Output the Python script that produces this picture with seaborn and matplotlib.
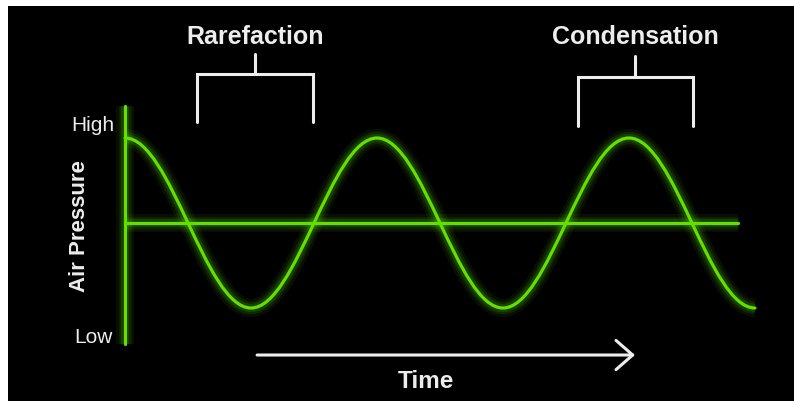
import matplotlib
matplotlib.use('Agg')
import matplotlib.pyplot as plt
import numpy as np
import seaborn as sns
from matplotlib.path import Path
from matplotlib.patches import PathPatch

# wave extremes (time in half-periods, pressure -1..1)
extreme_times = [0, 1, 2, 3, 4, 5]
extreme_levels = [1, -1, 1, -1, 1, -1]

# ambient pressure line and pressure axis extent
midline_times = [0, 4.865]
midline_levels = [0, 0]
axis_times = [0, 0]
axis_levels = [1.376, -1.424]

# brackets: (label, start, end, leg bottom, bar level, stem top)
bracket_labels = ['Rarefaction', 'Condensation']
bracket_starts = [0.571, 3.595]
bracket_ends = [1.492, 4.508]
bracket_bottoms = [1.188, 1.141]
bracket_bars = [1.753, 1.718]
bracket_tops = [1.988, 1.965]

time_arrow = [1.048, 4.048]

green = '#62e000'
white = '#ededed'

sns.set_theme(style='dark')
plt.rcParams['font.family'] = ['Liberation Sans', 'DejaVu Sans']

fig = plt.figure(figsize=(7.94, 4.02), dpi=100, facecolor='white')
ax = fig.add_axes([8 / 794, 0, 786 / 794, 395 / 402])
ax.set_facecolor('black')
ax.set_xlim(-0.929, 5.310)
ax.set_ylim(-2.094, 2.553)
ax.set_xticks([])
ax.set_yticks([])
ax.grid(False)
for sp in ax.spines.values():
    sp.set_visible(False)

glow = [(13, 0.07), (9, 0.1), (6, 0.15)]


def glow_line(x, y):
    for lw, a in glow:
        ax.plot(x, y, color=green, lw=lw, alpha=a, solid_capstyle='butt')
    sns.lineplot(x=x, y=y, color=green, lw=2.3, ax=ax, sort=False,
                 estimator=None)


# axis and midline
glow_line(axis_times, axis_levels)
glow_line(midline_times, midline_levels)
ax.set_xlabel('')
ax.set_ylabel('')

# wave as cubic segments between extremes
k = 0.3634
verts = [(extreme_times[0], extreme_levels[0])]
codes = [Path.MOVETO]
for i in range(1, len(extreme_times)):
    t0, t1 = extreme_times[i - 1], extreme_times[i]
    p0, p1 = extreme_levels[i - 1], extreme_levels[i]
    span = t1 - t0
    verts += [(t0 + k * span, p0), (t1 - k * span, p1), (t1, p1)]
    codes += [Path.CURVE4] * 3
wave = Path(verts, codes)
for lw, a in glow:
    ax.add_patch(PathPatch(wave, fill=False, edgecolor=green, lw=lw, alpha=a))
ax.add_patch(PathPatch(wave, fill=False, edgecolor=green, lw=2.3, capstyle='round'))

# brackets and labels
for lab, s, e, b, bar, top in zip(bracket_labels, bracket_starts, bracket_ends,
                                  bracket_bottoms, bracket_bars, bracket_tops):
    mid = (s + e) / 2
    ax.plot([s, s, e, e], [b, bar, bar, b], color=white, lw=2.2,
            solid_joinstyle='miter')
    ax.plot([mid, mid], [bar, top], color=white, lw=2.2)
    ax.text(mid, 2.12, lab, color=white, fontsize=18, fontweight='bold',
            ha='center', va='baseline')

# axis labels
ax.text(-0.087, 1.094, 'High', color=white, fontsize=15, ha='right', va='baseline')
ax.text(-0.095, -1.40, 'Low', color=white, fontsize=15, ha='right', va='baseline')
ax.text(-0.317, -0.024, 'Air Pressure', color=white, fontsize=16, fontweight='bold',
        rotation=90, rotation_mode='anchor', ha='center', va='baseline')

# time arrow
ax.annotate('', xy=(time_arrow[1], -1.553), xytext=(time_arrow[0], -1.553),
            arrowprops=dict(arrowstyle='->,head_length=1.2,head_width=1.05',
                            color=white, lw=2.2, mutation_scale=10,
                            shrinkA=0, shrinkB=0))
ax.text(2.389, -1.929, 'Time', color=white, fontsize=17.5, fontweight='bold',
        ha='center', va='baseline')

fig.savefig('out.png', dpi=100, facecolor='white')
